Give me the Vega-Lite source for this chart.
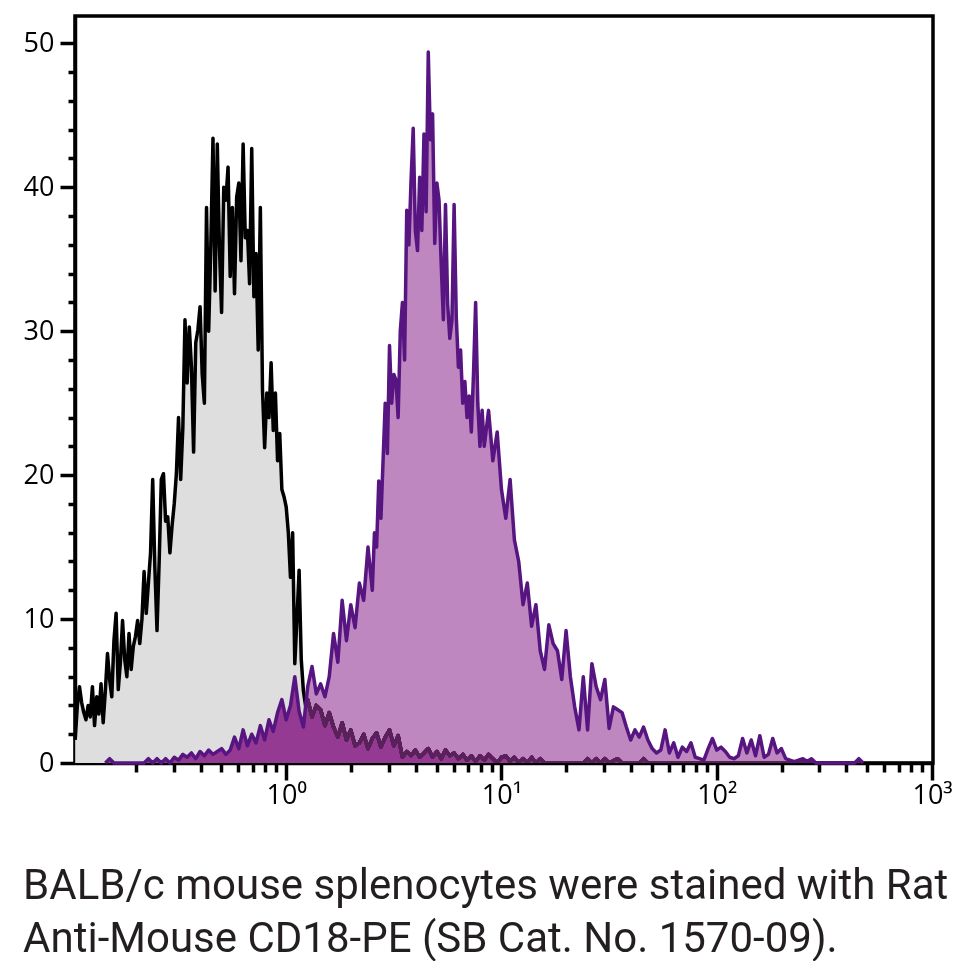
{
  "$schema": "https://vega.github.io/schema/vega-lite/v6.json",
  "autosize": {"type": "none"},
  "padding": {"left": 75, "top": 16, "right": 22, "bottom": 198},
  "width": 858,
  "height": 747,
  "background": "white",
  "config": {
    "view": {"stroke": "black", "strokeWidth": 3.5, "fill": "white"},
    "axis": {"grid": false, "domainColor": "black", "domainWidth": 3.5, "tickColor": "black", "tickWidth": 3.5, "labelColor": "black", "labelFont": "Open Sans", "labelFontSize": 27, "title": null}
  },
  "title": {
    "text": ["BALB/c mouse splenocytes were stained with Rat", "Anti-Mouse CD18-PE (SB Cat. No. 1570-09)."],
    "orient": "bottom", "anchor": "start", "frame": "bounds",
    "font": "Roboto", "fontSize": 42, "fontWeight": "normal", "color": "#231f20",
    "lineHeight": 53, "offset": 58
  },
  "datasets": {
    "ctl": [
      {"x":0.10471,"y":1.6},{"x":0.10715,"y":4.0},{"x":0.10965,"y":5.3},{"x":0.11220,"y":4.2},{"x":0.11482,"y":3.5},{"x":0.11749,"y":3.0},{"x":0.12023,"y":4.0},{"x":0.12303,"y":3.2},{"x":0.12589,"y":5.3},{"x":0.12882,"y":2.6},{"x":0.13183,"y":4.6},{"x":0.13490,"y":3.4},{"x":0.13804,"y":5.5},{"x":0.14125,"y":2.8},{"x":0.14454,"y":5.0},{"x":0.14791,"y":7.6},{"x":0.15136,"y":5.8},{"x":0.15488,"y":4.6},{"x":0.15849,"y":8.5},{"x":0.16218,"y":10.4},{"x":0.16596,"y":5.1},{"x":0.16982,"y":7.0},{"x":0.17378,"y":9.9},{"x":0.17783,"y":7.2},{"x":0.18197,"y":6.0},{"x":0.18621,"y":9.0},{"x":0.19055,"y":6.5},{"x":0.19498,"y":8.1},{"x":0.19953,"y":8.8},{"x":0.20417,"y":9.9},{"x":0.20893,"y":8.3},{"x":0.21380,"y":10.0},{"x":0.21878,"y":13.3},{"x":0.22387,"y":10.4},{"x":0.22909,"y":12.5},{"x":0.23442,"y":14.6},{"x":0.23988,"y":19.7},{"x":0.24547,"y":13.6},{"x":0.25119,"y":9.2},{"x":0.25704,"y":14.0},{"x":0.26303,"y":19.7},{"x":0.26915,"y":20.1},{"x":0.27542,"y":16.8},{"x":0.28184,"y":17.1},{"x":0.28840,"y":14.6},{"x":0.29512,"y":16.5},{"x":0.30200,"y":18.0},{"x":0.30903,"y":20.1},{"x":0.31623,"y":24.0},{"x":0.32359,"y":19.7},{"x":0.33113,"y":23.3},{"x":0.33884,"y":30.8},{"x":0.34674,"y":26.4},{"x":0.35481,"y":30.3},{"x":0.36308,"y":27.5},{"x":0.37154,"y":21.6},{"x":0.38019,"y":29.2},{"x":0.38905,"y":30.1},{"x":0.39811,"y":31.7},{"x":0.40738,"y":27.0},{"x":0.41687,"y":25.0},{"x":0.42658,"y":38.6},{"x":0.43652,"y":30.0},{"x":0.44668,"y":36.0},{"x":0.45709,"y":43.4},{"x":0.46774,"y":32.8},{"x":0.47863,"y":43.0},{"x":0.48978,"y":35.8},{"x":0.50119,"y":31.3},{"x":0.51286,"y":40.0},{"x":0.52481,"y":39.1},{"x":0.53703,"y":41.4},{"x":0.54954,"y":33.8},{"x":0.56234,"y":38.6},{"x":0.57544,"y":32.6},{"x":0.58884,"y":39.3},{"x":0.60256,"y":40.3},{"x":0.61660,"y":34.9},{"x":0.63096,"y":43.0},{"x":0.64565,"y":36.5},{"x":0.66069,"y":37.0},{"x":0.67608,"y":33.3},{"x":0.69183,"y":42.7},{"x":0.70795,"y":32.4},{"x":0.72444,"y":35.4},{"x":0.74131,"y":28.7},{"x":0.75858,"y":38.6},{"x":0.77625,"y":25.9},{"x":0.79433,"y":21.9},{"x":0.81283,"y":25.7},{"x":0.83176,"y":24.0},{"x":0.85114,"y":27.8},{"x":0.87096,"y":23.1},{"x":0.89125,"y":25.7},{"x":0.91201,"y":21.0},{"x":0.93325,"y":22.9},{"x":0.95499,"y":19.0},{"x":0.97724,"y":18.5},
      {"x":1.0,"y":17.8},{"x":1.0233,"y":16.0},{"x":1.0471,"y":12.9},{"x":1.0715,"y":16.0},{"x":1.0965,"y":6.9},{"x":1.1220,"y":10.0},{"x":1.1482,"y":13.4},{"x":1.1749,"y":7.2},{"x":1.2023,"y":5.0},{"x":1.2303,"y":4.0},{"x":1.2589,"y":4.4},{"x":1.3183,"y":3.2},{"x":1.3804,"y":4.0},{"x":1.4454,"y":3.7},{"x":1.5136,"y":2.6},{"x":1.5849,"y":3.5},{"x":1.6596,"y":2.5},{"x":1.7378,"y":1.8},{"x":1.8197,"y":2.8},{"x":1.9055,"y":1.6},{"x":1.9953,"y":2.3},{"x":2.0893,"y":1.2},{"x":2.1878,"y":1.4},{"x":2.2909,"y":2.0},{"x":2.3988,"y":1.0},{"x":2.5119,"y":1.7},{"x":2.6303,"y":2.1},{"x":2.7542,"y":1.1},{"x":2.8840,"y":1.8},{"x":3.0200,"y":2.3},{"x":3.1623,"y":1.2},{"x":3.3113,"y":1.9},{"x":3.4674,"y":0.4},{"x":3.6308,"y":0.8},{"x":3.8019,"y":0.5},{"x":3.9811,"y":0.9},{"x":4.1687,"y":0.4},{"x":4.3652,"y":0.7},{"x":4.5709,"y":1.0},{"x":4.7863,"y":0.4},{"x":5.0119,"y":0.8},{"x":5.2481,"y":0.3},{"x":5.4954,"y":0.9},{"x":5.7544,"y":0.5},{"x":6.0256,"y":0.7},{"x":6.3096,"y":0.3},{"x":6.6069,"y":0.6},{"x":6.9183,"y":0.2},{"x":7.2444,"y":0.5},{"x":7.5858,"y":0.1},{"x":7.9433,"y":0.5},{"x":8.3176,"y":0.2},{"x":8.7096,"y":0.6},{"x":9.1201,"y":0.3},{"x":9.5499,"y":0},
      {"x":10.0,"y":0.4},{"x":10.471,"y":0.5},{"x":10.965,"y":0.1},{"x":11.482,"y":0.4},{"x":12.023,"y":0},{"x":12.589,"y":0.3},{"x":13.183,"y":0},{"x":13.804,"y":0.4},{"x":14.454,"y":0},{"x":15.136,"y":0.3},{"x":15.849,"y":0},{"x":19.953,"y":0},{"x":23.988,"y":0},{"x":25.119,"y":0.3},{"x":26.303,"y":0},{"x":27.542,"y":0.3},{"x":28.840,"y":0},{"x":30.200,"y":0.3},{"x":31.623,"y":0},{"x":34.674,"y":0.3},{"x":36.308,"y":0},{"x":43.652,"y":0},{"x":45.709,"y":0.3},{"x":47.863,"y":0}
    ],
    "pur": [
      {"x":0.14454,"y":0},{"x":0.15136,"y":0.3},{"x":0.15849,"y":0},{"x":0.21878,"y":0},{"x":0.22909,"y":0.3},{"x":0.23988,"y":0},{"x":0.25119,"y":0.3},{"x":0.26303,"y":0},{"x":0.27542,"y":0.3},{"x":0.28840,"y":0},{"x":0.30200,"y":0.4},{"x":0.31623,"y":0.2},{"x":0.33113,"y":0.6},{"x":0.34674,"y":0.4},{"x":0.36308,"y":0.7},{"x":0.38019,"y":0.3},{"x":0.39811,"y":0.8},{"x":0.41687,"y":0.5},{"x":0.43652,"y":0.9},{"x":0.45709,"y":0.6},{"x":0.47863,"y":0.8},{"x":0.50119,"y":1.0},{"x":0.52481,"y":0.6},{"x":0.54954,"y":0.9},{"x":0.57544,"y":1.8},{"x":0.60256,"y":1.0},{"x":0.63096,"y":2.3},{"x":0.66069,"y":1.2},{"x":0.69183,"y":2.0},{"x":0.72444,"y":1.4},{"x":0.75858,"y":2.6},{"x":0.79433,"y":1.6},{"x":0.83176,"y":3.0},{"x":0.87096,"y":2.2},{"x":0.91201,"y":3.5},{"x":0.95499,"y":4.4},
      {"x":1.0,"y":3.0},{"x":1.0471,"y":4.0},{"x":1.0965,"y":6.0},{"x":1.1482,"y":3.6},{"x":1.2023,"y":2.5},{"x":1.2589,"y":5.3},{"x":1.3183,"y":6.7},{"x":1.3804,"y":4.8},{"x":1.4454,"y":5.5},{"x":1.5136,"y":4.6},{"x":1.5849,"y":6.0},{"x":1.6596,"y":9.0},{"x":1.7378,"y":7.0},{"x":1.8197,"y":11.3},{"x":1.9055,"y":8.5},{"x":1.9953,"y":11.0},{"x":2.0893,"y":9.4},{"x":2.1878,"y":12.5},{"x":2.2909,"y":11.3},{"x":2.3988,"y":15.0},{"x":2.5119,"y":12.0},{"x":2.5704,"y":16.0},{"x":2.6303,"y":15.0},{"x":2.6915,"y":19.6},{"x":2.7542,"y":17.0},{"x":2.8184,"y":21.0},{"x":2.8840,"y":25.0},{"x":2.9512,"y":21.5},{"x":3.0200,"y":29.0},{"x":3.0903,"y":25.0},{"x":3.1623,"y":27.0},{"x":3.2359,"y":26.6},{"x":3.3113,"y":24.0},{"x":3.3884,"y":30.0},{"x":3.4674,"y":32.0},{"x":3.5481,"y":28.0},{"x":3.6308,"y":38.4},{"x":3.7154,"y":36.0},{"x":3.8019,"y":40.5},{"x":3.8905,"y":44.1},{"x":3.9811,"y":37.0},{"x":4.0738,"y":35.6},{"x":4.1687,"y":40.7},{"x":4.2658,"y":37.0},{"x":4.3652,"y":43.7},{"x":4.4668,"y":38.3},{"x":4.5709,"y":49.4},{"x":4.6774,"y":43.3},{"x":4.7863,"y":45.1},{"x":4.8978,"y":36.1},{"x":5.0119,"y":40.3},{"x":5.1286,"y":39.1},{"x":5.2481,"y":34.7},{"x":5.3703,"y":30.8},{"x":5.4954,"y":38.8},{"x":5.6234,"y":31.9},{"x":5.7544,"y":29.5},{"x":5.8884,"y":30.8},{"x":6.0256,"y":38.8},{"x":6.1660,"y":31.0},{"x":6.3096,"y":27.5},{"x":6.4565,"y":28.7},{"x":6.6069,"y":25.0},{"x":6.7608,"y":26.5},{"x":6.9183,"y":24.0},{"x":7.0795,"y":25.5},{"x":7.2444,"y":23.0},{"x":7.4131,"y":27.0},{"x":7.5858,"y":32.0},{"x":7.7625,"y":25.0},{"x":7.9433,"y":22.0},{"x":8.1283,"y":24.5},{"x":8.3176,"y":22.0},{"x":8.7096,"y":24.5},{"x":9.1201,"y":21.0},{"x":9.5499,"y":23.0},
      {"x":10.0,"y":19.0},{"x":10.471,"y":17.0},{"x":10.965,"y":19.7},{"x":11.482,"y":15.5},{"x":12.023,"y":14.0},{"x":12.589,"y":11.0},{"x":13.183,"y":12.5},{"x":13.804,"y":9.5},{"x":14.454,"y":11.0},{"x":15.136,"y":7.8},{"x":15.849,"y":6.5},{"x":16.596,"y":9.6},{"x":17.378,"y":8.3},{"x":18.197,"y":7.8},{"x":19.055,"y":5.8},{"x":19.953,"y":9.2},{"x":20.893,"y":6.0},{"x":21.878,"y":3.9},{"x":22.909,"y":2.3},{"x":23.988,"y":6.0},{"x":25.119,"y":2.3},{"x":26.303,"y":6.9},{"x":27.542,"y":5.3},{"x":28.840,"y":4.4},{"x":30.200,"y":5.8},{"x":31.623,"y":2.4},{"x":33.113,"y":3.9},{"x":34.674,"y":3.7},{"x":36.308,"y":3.5},{"x":38.019,"y":2.5},{"x":39.811,"y":1.6},{"x":41.687,"y":2.3},{"x":43.652,"y":1.8},{"x":45.709,"y":2.5},{"x":47.863,"y":1.6},{"x":50.119,"y":1.0},{"x":52.481,"y":0.7},{"x":54.954,"y":0.9},{"x":57.544,"y":2.3},{"x":60.256,"y":0.7},{"x":63.096,"y":1.4},{"x":66.069,"y":0.4},{"x":69.183,"y":1.1},{"x":72.444,"y":0.8},{"x":75.858,"y":1.4},{"x":79.433,"y":0.4},{"x":83.176,"y":0.3},{"x":87.096,"y":0.2},{"x":91.201,"y":1.0},{"x":95.499,"y":1.7},
      {"x":100,"y":0.9},{"x":104.71,"y":1.1},{"x":109.65,"y":0.8},{"x":114.82,"y":0.4},{"x":120.23,"y":0.3},{"x":125.89,"y":0.5},{"x":131.83,"y":1.7},{"x":138.04,"y":0.7},{"x":144.54,"y":1.6},{"x":151.36,"y":0.5},{"x":158.49,"y":1.9},{"x":165.96,"y":0.4},{"x":173.78,"y":0.6},{"x":181.97,"y":1.7},{"x":190.55,"y":0.7},{"x":199.53,"y":1.0},{"x":208.93,"y":0.3},{"x":218.78,"y":0.2},{"x":229.09,"y":0.1},{"x":239.88,"y":0.2},{"x":251.19,"y":0.3},{"x":263.03,"y":0.1},{"x":275.42,"y":0.3},{"x":288.40,"y":0},{"x":436.52,"y":0},{"x":457.09,"y":0.3},{"x":478.63,"y":0}
    ]
  },
  "resolve": {"axis": {"x": "independent", "y": "independent"}},
  "layer": [
    {
      "data": {"name": "ctl"},
      "mark": {"type": "area", "fill": "#dedede"},
      "encoding": {
        "x": {"field": "x", "type": "quantitative", "scale": {"type": "log", "domain": [0.1045, 1010], "nice": false},
          "axis": {"orient": "bottom", "values": [1, 10, 100, 1000], "labelExpr": "datum.value == 1 ? '10⁰' : datum.value == 10 ? '10¹' : datum.value == 100 ? '10²' : '10³'", "tickSize": 17, "tickWidth": 3.5, "domainWidth": 3.5, "labelFontSize": 27, "labelPadding": 2, "labelFlush": false, "labelOverlap": false}},
        "y": {"field": "y", "type": "quantitative", "scale": {"domain": [0, 51.9], "nice": false},
          "axis": {"orient": "left", "values": [0, 10, 20, 30, 40, 50], "tickSize": 15, "tickWidth": 3.5, "domainWidth": 3.5, "labelFontSize": 27, "labelPadding": 6, "labelOverlap": false}}
      }
    },
    {
      "data": {"name": "ctl"},
      "mark": {"type": "line", "stroke": "black", "strokeWidth": 3.5, "strokeJoin": "round"},
      "encoding": {
        "x": {"field": "x", "type": "quantitative",
          "axis": {"orient": "bottom", "values": [0.2,0.3,0.4,0.5,0.6,0.7,0.8,0.9,2,3,4,5,6,7,8,9,20,30,40,50,60,70,80,90,200,300,400,500,600,700,800,900], "labels": false, "domain": false, "tickSize": 9, "tickWidth": 3.5}},
        "y": {"field": "y", "type": "quantitative",
          "axis": {"orient": "left", "values": [2,4,6,8,12,14,16,18,22,24,26,28,32,34,36,38,42,44,46,48], "labels": false, "domain": false, "tickSize": 7, "tickWidth": 3.5}}
      }
    },
    {
      "data": {"name": "pur"},
      "mark": {"type": "area", "fill": "#502c4b", "blend": "color-burn"},
      "encoding": {
        "x": {"field": "x", "type": "quantitative", "axis": null},
        "y": {"field": "y", "type": "quantitative", "axis": null}
      }
    },
    {
      "data": {"name": "pur"},
      "mark": {"type": "area", "fill": "#943796", "opacity": 0.6},
      "encoding": {
        "x": {"field": "x", "type": "quantitative", "axis": null},
        "y": {"field": "y", "type": "quantitative", "axis": null}
      }
    },
    {
      "data": {"name": "pur"},
      "mark": {"type": "line", "stroke": "#561580", "strokeWidth": 3.5, "strokeJoin": "round"},
      "encoding": {
        "x": {"field": "x", "type": "quantitative", "axis": null},
        "y": {"field": "y", "type": "quantitative", "axis": null}
      }
    }
  ]
}
